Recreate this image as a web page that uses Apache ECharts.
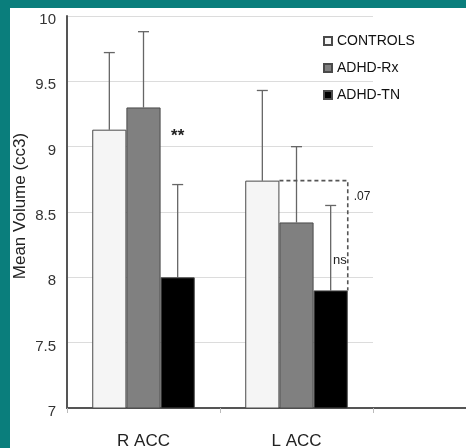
<!DOCTYPE html>
<html>
<head>
<meta charset="utf-8">
<script src="https://cdn.jsdelivr.net/npm/echarts@6/dist/echarts.min.js"></script>
<style>
  html, body { margin: 0; padding: 0; background: #0a7e7c; width: 466px; height: 448px; overflow: hidden; }
  #chart { position: absolute; left: 10px; top: 8px; width: 456px; height: 440px; background: #ffffff; }
</style>
</head>
<body>
<div id="chart"></div>
<script>
// Regions and group means (cc3) with upper error limits
const regions = ['R ACC', 'L ACC'];
const groups = ['CONTROLS', 'ADHD-Rx', 'ADHD-TN'];
const controlsMean = [9.13, 8.74];
const rxMean = [9.30, 8.42];
const tnMean = [8.00, 7.90];
const controlsUpper = [9.72, 9.43];
const rxUpper = [9.88, 9.00];
const tnUpper = [8.71, 8.55];
const yTicks = [7, 7.5, 8, 8.5, 9, 9.5, 10];

const means = [controlsMean, rxMean, tnMean];
const uppers = [controlsUpper, rxUpper, tnUpper];
const fills = ['#f5f5f5', '#808080', '#000000'];
const FONT = 'Liberation Sans, Arial, sans-serif';
const GAP = 0.33;

const chart = echarts.init(document.getElementById('chart'));

// one error-bar item per (region, group)
const errData = [];
regions.forEach((r, i) => {
  groups.forEach((g, s) => errData.push([i, s, uppers[s][i], means[s][i]]));
});

function barGeom(api, catIdx, s) {
  const band = api.size([1, 0])[0];
  const bw = band * (1 - GAP) / 3;
  const cx = api.coord([catIdx, 0])[0] + (s - 1) * bw;
  return { cx: cx, bw: bw };
}

const option = {
  animation: false,
  textStyle: { fontFamily: FONT },
  legend: {
    orient: 'vertical',
    left: 308,
    top: 21,
    itemWidth: 8,
    itemHeight: 8,
    itemGap: 13,
    icon: 'rect',
    textStyle: { fontSize: 14, color: '#111', fontFamily: FONT },
    data: groups
  },
  grid: [
    { left: 57, right: 93, top: 8, bottom: 40, outerBoundsMode: 'none', containLabel: false },
    { left: 363, right: 0, top: 8, bottom: 40, outerBoundsMode: 'none', containLabel: false }
  ],
  xAxis: [
    {
      type: 'category', gridIndex: 0, data: regions,
      axisLine: { lineStyle: { color: '#555', width: 2 } },
      axisTick: { show: true, alignWithLabel: false, length: 5, lineStyle: { color: '#bbb' } },
      axisLabel: { fontSize: 17, color: '#222', margin: 25, fontFamily: FONT }
    },
    {
      type: 'category', gridIndex: 1, data: [''],
      axisLine: { lineStyle: { color: '#555', width: 2 } },
      axisTick: { show: false },
      axisLabel: { show: false }
    }
  ],
  yAxis: [
    {
      type: 'value', gridIndex: 0, min: yTicks[0], max: yTicks[yTicks.length - 1], interval: 0.5,
      name: 'Mean Volume (cc3)', nameLocation: 'middle', nameGap: 38, nameMoveOverlap: false,
      nameTextStyle: { fontSize: 17, color: '#222', fontFamily: FONT, padding: [0, 0, 0, 12] },
      axisLine: { show: true, lineStyle: { color: '#555', width: 2 } },
      axisTick: { show: false },
      axisLabel: {
        margin: 11,
        formatter: v => yTicks.includes(v) ? '{t|' + v + '}' : '',
        rich: { t: { fontSize: 15, color: '#333', fontFamily: FONT, padding: [8, 0, 0, 0] } }
      },
      splitLine: { lineStyle: { color: '#dcdcdc', width: 1 } }
    },
    {
      type: 'value', gridIndex: 1, min: 7, max: 10, show: false,
      splitLine: { show: false }
    }
  ],
  series: [
    ...groups.map((g, s) => ({
      name: g,
      type: 'bar',
      xAxisIndex: 0, yAxisIndex: 0,
      data: means[s],
      barGap: '0%',
      barCategoryGap: (GAP * 100) + '%',
      itemStyle: { color: fills[s], borderColor: '#4a4a4a', borderWidth: 1 },
      z: 2
    })),
    {
      // upper error whiskers
      type: 'custom',
      xAxisIndex: 0, yAxisIndex: 0,
      data: errData,
      z: 1,
      renderItem: function (params, api) {
        const cat = api.value(0), s = api.value(1);
        const g = barGeom(api, cat, s);
        const yTop = api.coord([cat, api.value(2)])[1];
        const yMean = api.coord([cat, api.value(3)])[1];
        const st = { stroke: '#666', lineWidth: 1.3 };
        return {
          type: 'group',
          children: [
            { type: 'line', shape: { x1: g.cx, y1: yMean, x2: g.cx, y2: yTop }, style: st },
            { type: 'line', shape: { x1: g.cx - 5.5, y1: yTop, x2: g.cx + 5.5, y2: yTop }, style: st }
          ]
        };
      }
    },
    {
      // significance annotations
      type: 'custom',
      xAxisIndex: 0, yAxisIndex: 0,
      data: [[0, 1]],
      z: 3,
      silent: true,
      renderItem: function (params, api) {
        // R ACC: ** beside ADHD-TN bar
        const r = barGeom(api, 0, 2);
        const starY = api.coord([0, controlsMean[0]])[1];
        // L ACC: dashed bracket from CONTROLS mean to ADHD-TN mean
        const c = barGeom(api, 1, 0);
        const t = barGeom(api, 1, 2);
        const xL = c.cx + c.bw / 2;
        const xR = t.cx + t.bw / 2;
        const yHi = api.coord([1, controlsMean[1]])[1];
        const yLo = api.coord([1, tnMean[1]])[1];
        const dash = { stroke: '#555', lineWidth: 1.6, lineDash: [4, 3], fill: null };
        return {
          type: 'group',
          children: [
            { type: 'text', style: { text: '**', x: r.cx, y: starY + 7, fontSize: 17, fontWeight: 'bold',
                                     fill: '#222', align: 'center', verticalAlign: 'middle', fontFamily: FONT } },
            { type: 'polyline', shape: { points: [[xL, yHi], [xR, yHi], [xR, yLo]] }, style: dash },
            { type: 'text', style: { text: '.07', x: xR + 6, y: yHi + 16, fontSize: 12,
                                     fill: '#222', align: 'left', verticalAlign: 'middle', fontFamily: FONT } },
            { type: 'text', style: { text: 'ns', x: xR - 1, y: yLo - 30, fontSize: 13,
                                     fill: '#222', align: 'right', verticalAlign: 'middle', fontFamily: FONT } }
          ]
        };
      }
    }
  ]
};

chart.setOption(option);
</script>
</body>
</html>
